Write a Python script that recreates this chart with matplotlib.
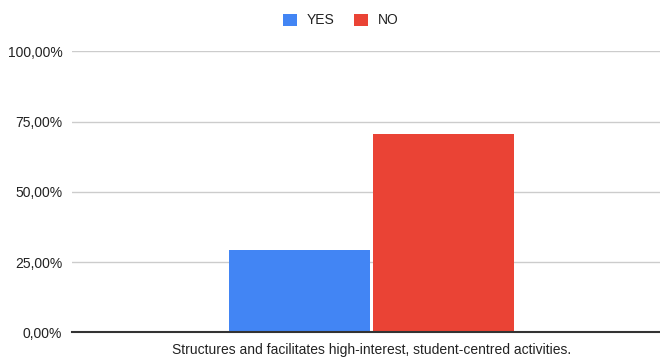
import matplotlib
matplotlib.use("Agg")
import matplotlib.pyplot as plt
from matplotlib.patches import Patch
from matplotlib.ticker import FuncFormatter

categories = ["Structures and facilitates high-interest, student-centred activities."]
series_names = ["YES", "NO"]
yes_values = [0.294]
no_values = [0.706]
colors = ["#4285F4", "#EA4335"]
y_ticks = [0, 0.25, 0.5, 0.75, 1.0]

plt.rcParams['font.family'] = ['Liberation Sans', 'DejaVu Sans']

fig = plt.figure(figsize=(6.6, 3.57), dpi=100)
W, H = 660, 357
left_px, right_px = 72, 671
bottom_px, top_px = 332.3, 51.3
ax = fig.add_axes([left_px / W, (H - bottom_px) / H, (right_px - left_px) / W, (bottom_px - top_px) / H])

scale = right_px - left_px
bw = 141 / scale
gap = 3 / scale
x0 = 0
ax.bar([x0 - (bw + gap) / 2], yes_values, width=bw, color=colors[0], zorder=3)
ax.bar([x0 + (bw + gap) / 2], no_values, width=bw, color=colors[1], zorder=3)

ax.set_xlim(-0.5, 0.5)
ax.set_ylim(0, 1.0)
ax.set_yticks(y_ticks)
ax.yaxis.set_major_formatter(FuncFormatter(lambda v, p: f"{v*100:.2f}%".replace('.', ',')))
ax.set_xticks([x0])
ax.set_xticklabels(categories)
ax.tick_params(axis='both', length=0, labelsize=10, colors='#222222')
ax.tick_params(axis='x', pad=7.5)
ax.tick_params(axis='y', pad=7)
ax.grid(axis='y', color='#cccccc', linewidth=1, zorder=0)
for s in ['top', 'right', 'left']:
    ax.spines[s].set_visible(False)
ax.spines['bottom'].set_color('#333333')
ax.spines['bottom'].set_linewidth(1.5)
ax.spines['bottom'].set_zorder(4)

handles = [Patch(facecolor=c, label=n) for c, n in zip(colors, series_names)]
fig.legend(handles=handles, loc='center', bbox_to_anchor=(341 / W, 1 - 20.5 / H), ncol=2,
           frameon=False, fontsize=10, handlelength=1.0, handleheight=1.0,
           handletextpad=0.7, columnspacing=1.4, labelcolor='#222222',
           borderpad=0, borderaxespad=0)

fig.savefig("out.png", dpi=100)
